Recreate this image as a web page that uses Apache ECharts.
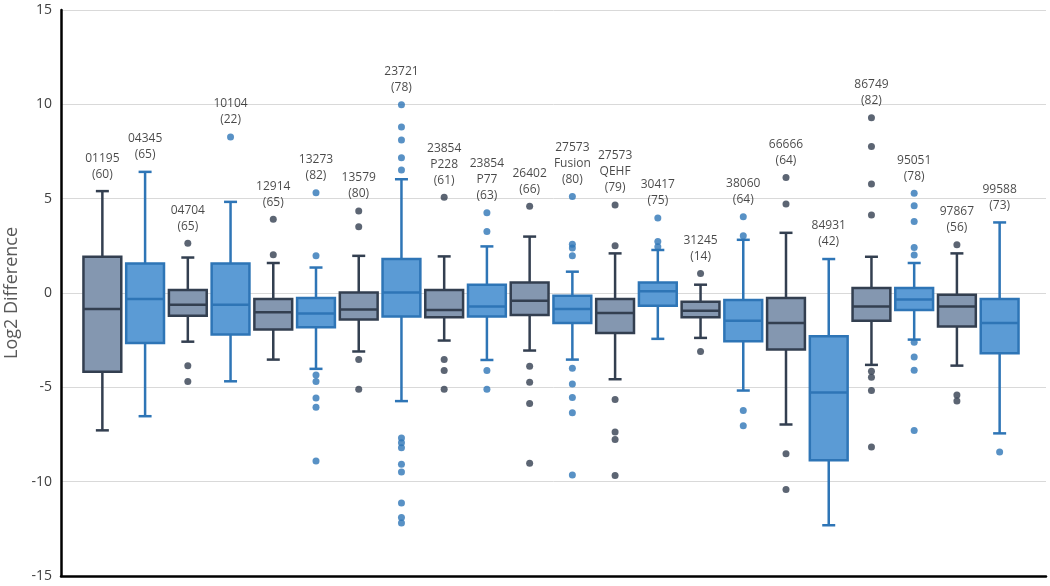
<!DOCTYPE html>
<html>
<head>
<meta charset="utf-8">
<script src="https://cdn.jsdelivr.net/npm/echarts@6/dist/echarts.min.js"></script>
<style>
html,body{margin:0;padding:0;background:#fff;}
#chart{width:1050px;height:586px;}
</style>
</head>
<body>
<div id="chart"></div>
<script>
const categories = ['01195','04345','04704','10104','12914','13273','13579','23721','23854 P228','23854 P77','26402','27573 Fusion','27573 QEHF','30417','31245','38060','66666','84931','86749','95051','97867','99588'];
const counts = [60,65,65,22,65,82,80,78,61,63,66,80,79,75,14,64,64,42,82,78,56,73];
const whiskerLow = [-7.28,-6.53,-2.58,-4.68,-3.53,-4.02,-3.10,-5.73,-2.52,-3.55,-3.05,-3.53,-4.57,-2.43,-2.38,-5.17,-6.97,-12.31,-3.81,-2.47,-3.85,-7.44];
const q1 =         [-4.17,-2.65,-1.20,-2.20,-1.94,-1.82,-1.41,-1.24,-1.29,-1.24,-1.17,-1.59,-2.12,-0.67,-1.29,-2.56,-3.00,-8.87,-1.47,-0.90,-1.78,-3.19];
const median =     [-0.85,-0.32,-0.62,-0.62,-1.02,-1.08,-0.88,0.03,-0.90,-0.71,-0.41,-0.85,-1.06,0.09,-0.94,-1.47,-1.59,-5.27,-0.71,-0.35,-0.71,-1.59];
const q3 =         [1.92,1.57,0.16,1.57,-0.32,-0.27,0.03,1.80,0.16,0.44,0.56,-0.14,-0.32,0.56,-0.46,-0.37,-0.27,-2.29,0.26,0.26,-0.09,-0.32];
const whiskerHigh =[5.40,6.42,1.88,4.83,1.59,1.35,1.97,6.03,1.94,2.47,2.99,1.13,2.10,2.28,0.44,2.82,3.19,1.80,1.92,1.59,2.10,3.74];
const outliers = [
  [],
  [],
  [2.64,-3.85,-4.69],
  [8.27],
  [3.91,2.03],
  [5.32,1.97,-4.34,-4.69,-5.56,-6.05,-8.91],
  [4.35,3.51,-3.53,-5.10],
  [9.98,8.80,8.11,7.17,6.52,-7.69,-7.94,-8.20,-9.08,-9.49,-11.13,-11.90,-12.19],
  [5.08,-3.53,-4.11,-5.10],
  [4.26,3.26,-4.11,-5.10],
  [4.60,-3.88,-4.73,-5.86,-9.03],
  [5.11,2.59,2.38,1.97,-3.99,-4.82,-5.54,-6.35,-9.65],
  [4.67,2.50,-5.65,-7.37,-7.76,-9.67],
  [3.98,2.73,2.45],
  [1.04,-3.10],
  [4.04,3.03,-6.23,-7.04],
  [6.12,4.72,-8.52,-10.42],
  [],
  [9.29,7.76,5.78,4.14,-4.15,-4.47,-5.17,-8.16],
  [5.29,4.62,3.79,2.41,2.01,-2.61,-3.39,-4.09,-7.29],
  [2.56,-5.40,-5.73],
  [-8.43]
];
const yTicks = {min:-15, max:15, interval:5};

const GREY_FILL = '#8497b0', GREY_LINE = '#333f50';
const BLUE_FILL = '#5b9bd5', BLUE_LINE = '#2e75b6';
const fillOf = i => i % 2 === 0 ? GREY_FILL : BLUE_FILL;
const lineOf = i => i % 2 === 0 ? GREY_LINE : BLUE_LINE;

const boxData = categories.map((c, i) => [i, whiskerLow[i], q1[i], median[i], q3[i], whiskerHigh[i]]);
const outlierData = [];
outliers.forEach((arr, i) => arr.forEach(v => outlierData.push({value:[i, v], itemStyle:{color: lineOf(i)}})));
const labelData = categories.map((c, i) => {
  const top = Math.max(whiskerHigh[i], ...(outliers[i].length ? outliers[i] : [-Infinity]));
  return {value:[i, top], label: c.replace(' ', '\n') + '\n(' + counts[i] + ')'};
});

const chart = echarts.init(document.getElementById('chart'), null, {renderer:'canvas'});
chart.setOption({
  animation:false,
  backgroundColor:'#fff',
  grid:[
    {left:81, right:29, top:10, bottom:10, containLabel:false, outerBoundsMode:'none'},
    {left:61, right:4, top:10, bottom:10, containLabel:false, outerBoundsMode:'none'}
  ],
  xAxis:[
    {type:'category', gridIndex:0, data:categories, boundaryGap:true,
     axisLine:{show:false}, axisTick:{show:false}, axisLabel:{show:false}, splitLine:{show:false}},
    {type:'value', gridIndex:1, min:0, max:1,
     axisLine:{show:true, onZero:false, lineStyle:{color:'#000', width:2.5}}, axisTick:{show:false}, axisLabel:{show:false}, splitLine:{show:false}}
  ],
  yAxis:[
    {type:'value', gridIndex:0, min:yTicks.min, max:yTicks.max, interval:yTicks.interval, offset:20,
     axisLine:{show:true, onZero:false, lineStyle:{color:'#000', width:2.5}}, axisTick:{show:false},
     axisLabel:{color:'#404040', fontSize:14, margin:9, fontFamily:'Open Sans'},
     splitLine:{show:false},
     name:'Log2 Difference', nameLocation:'middle', nameRotate:90, nameGap:39,
     nameTextStyle:{color:'#595959', fontSize:18, fontFamily:'Open Sans'}},
    {type:'value', gridIndex:1, min:yTicks.min, max:yTicks.max, interval:yTicks.interval,
     axisLine:{show:false}, axisTick:{show:false}, axisLabel:{show:false},
     splitLine:{show:true, lineStyle:{color:'#d9d9d9', width:1}}}
  ],
  series:[
    {
      type:'custom', xAxisIndex:0, yAxisIndex:0, data:boxData, z:3,
      renderItem:function(params, api){
        const i = api.value(0);
        const x = api.coord([i, 0])[0];
        const band = api.size([1, 0])[0];
        const bw = band * 0.885;
        const yLo = api.coord([i, api.value(1)])[1];
        const yQ1 = api.coord([i, api.value(2)])[1];
        const yMed = api.coord([i, api.value(3)])[1];
        const yQ3 = api.coord([i, api.value(4)])[1];
        const yHi = api.coord([i, api.value(5)])[1];
        const stroke = lineOf(i), fill = fillOf(i);
        const lw = 2.5, cap = 6.5;
        const ls = {stroke:stroke, lineWidth:lw};
        return {type:'group', children:[
          {type:'line', shape:{x1:x, y1:yHi, x2:x, y2:yQ3}, style:ls},
          {type:'line', shape:{x1:x, y1:yQ1, x2:x, y2:yLo}, style:ls},
          {type:'line', shape:{x1:x-cap, y1:yHi, x2:x+cap, y2:yHi}, style:ls},
          {type:'line', shape:{x1:x-cap, y1:yLo, x2:x+cap, y2:yLo}, style:ls},
          {type:'rect', shape:{x:x-bw/2, y:yQ3, width:bw, height:yQ1-yQ3}, style:{fill:fill, stroke:stroke, lineWidth:lw}},
          {type:'line', shape:{x1:x-bw/2, y1:yMed, x2:x+bw/2, y2:yMed}, style:ls}
        ]};
      }
    },
    {
      type:'scatter', xAxisIndex:0, yAxisIndex:0, data:outlierData, symbol:'circle', symbolSize:7, z:4
    },
    {
      type:'scatter', xAxisIndex:0, yAxisIndex:0, symbolSize:0, z:5,
      data:labelData.map(d => ({value:d.value, text:d.label})),
      label:{show:true, position:'top', distance:9, color:'#1a1a1a', fontSize:12, lineHeight:16,
        fontFamily:'Open Sans', align:'center',
        formatter:function(p){ return p.data.text; }}
    }
  ]
});
</script>
</body>
</html>
